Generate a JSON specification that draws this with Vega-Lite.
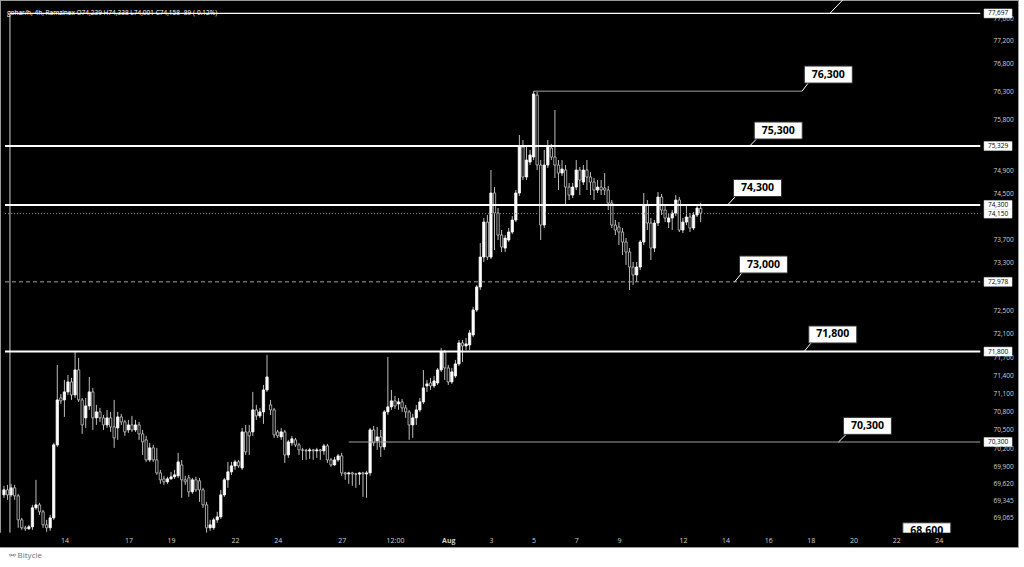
{
"$schema": "https://vega.github.io/schema/vega-lite/v6.json",
"width": 1018, "height": 547,
"autosize": {"type": "none"},
"padding": {"left": 0, "top": 0, "right": 6, "bottom": 20},
"background": "#ffffff",
"config": {"view": {"fill": "#000000", "stroke": "#9a9a9a", "strokeWidth": 1}, "font": "Open Sans"},
"title": {"text": "gohar/h, 4h, Ramzinex  O74,239  H74,338  L74,001  C74,158  -89 (-0.12%)", "anchor": "start", "frame": "group", "orient": "top", "offset": -16, "fontSize": 6.5, "fontWeight": "normal", "color": "#ffffff", "dx": 7},
"datasets": {
"candles": [
{"t":"2024-07-11T04:00","o":69438,"h":69584,"l":69389,"c":69519},
{"t":"2024-07-11T08:00","o":69519,"h":69600,"l":69357,"c":69438},
{"t":"2024-07-11T12:00","o":69438,"h":69617,"l":69406,"c":69552},
{"t":"2024-07-11T16:00","o":69552,"h":69600,"l":69357,"c":69422},
{"t":"2024-07-11T20:00","o":69422,"h":69454,"l":68906,"c":69034},
{"t":"2024-07-12T00:00","o":69034,"h":69066,"l":68874,"c":68906},
{"t":"2024-07-12T04:00","o":68906,"h":68938,"l":68858,"c":68890},
{"t":"2024-07-12T08:00","o":68890,"h":68954,"l":68874,"c":68922},
{"t":"2024-07-12T12:00","o":68922,"h":69276,"l":68874,"c":69228},
{"t":"2024-07-12T16:00","o":69228,"h":69682,"l":69196,"c":69276},
{"t":"2024-07-12T20:00","o":69276,"h":69308,"l":69115,"c":69164},
{"t":"2024-07-13T00:00","o":69164,"h":69196,"l":68906,"c":68954},
{"t":"2024-07-13T04:00","o":68954,"h":69034,"l":68842,"c":68906},
{"t":"2024-07-13T08:00","o":68906,"h":69115,"l":68858,"c":69066},
{"t":"2024-07-13T12:00","o":69066,"h":70286,"l":69034,"c":70253},
{"t":"2024-07-13T16:00","o":70253,"h":71577,"l":70220,"c":70994},
{"t":"2024-07-13T20:00","o":71027,"h":71093,"l":70928,"c":70978},
{"t":"2024-07-14T00:00","o":70994,"h":71326,"l":70713,"c":71127},
{"t":"2024-07-14T04:00","o":71127,"h":71410,"l":71077,"c":71293},
{"t":"2024-07-14T08:00","o":71293,"h":71360,"l":70994,"c":71077},
{"t":"2024-07-14T12:00","o":71077,"h":71794,"l":71027,"c":71493},
{"t":"2024-07-14T16:00","o":71493,"h":71694,"l":70961,"c":70994},
{"t":"2024-07-14T20:00","o":70994,"h":71027,"l":70433,"c":70581},
{"t":"2024-07-15T00:00","o":70697,"h":71027,"l":70532,"c":70895},
{"t":"2024-07-15T04:00","o":70895,"h":71376,"l":70829,"c":71127},
{"t":"2024-07-15T08:00","o":71127,"h":71193,"l":70499,"c":70697},
{"t":"2024-07-15T12:00","o":70697,"h":70912,"l":70581,"c":70796},
{"t":"2024-07-15T16:00","o":70796,"h":70862,"l":70631,"c":70697},
{"t":"2024-07-15T20:00","o":70697,"h":70746,"l":70499,"c":70581},
{"t":"2024-07-16T00:00","o":70581,"h":70829,"l":70532,"c":70697},
{"t":"2024-07-16T04:00","o":70697,"h":70796,"l":70466,"c":70548},
{"t":"2024-07-16T08:00","o":70548,"h":70994,"l":70204,"c":70368},
{"t":"2024-07-16T12:00","o":70532,"h":70796,"l":70335,"c":70713},
{"t":"2024-07-16T16:00","o":70713,"h":70763,"l":70581,"c":70631},
{"t":"2024-07-16T20:00","o":70631,"h":70664,"l":70401,"c":70466},
{"t":"2024-07-17T00:00","o":70499,"h":70664,"l":70450,"c":70581},
{"t":"2024-07-17T04:00","o":70581,"h":70730,"l":70466,"c":70499},
{"t":"2024-07-17T08:00","o":70499,"h":70664,"l":70466,"c":70581},
{"t":"2024-07-17T12:00","o":70581,"h":70631,"l":70335,"c":70433},
{"t":"2024-07-17T16:00","o":70433,"h":70499,"l":70089,"c":70302},
{"t":"2024-07-17T20:00","o":70335,"h":70401,"l":69975,"c":70007},
{"t":"2024-07-18T00:00","o":70007,"h":70286,"l":69975,"c":70204},
{"t":"2024-07-18T04:00","o":70204,"h":70253,"l":69975,"c":70007},
{"t":"2024-07-18T08:00","o":70007,"h":70204,"l":69763,"c":69795},
{"t":"2024-07-18T12:00","o":69795,"h":69844,"l":69617,"c":69682},
{"t":"2024-07-18T16:00","o":69698,"h":69747,"l":69600,"c":69649},
{"t":"2024-07-18T20:00","o":69649,"h":69731,"l":69617,"c":69698},
{"t":"2024-07-19T00:00","o":69698,"h":69812,"l":69682,"c":69731},
{"t":"2024-07-19T04:00","o":69731,"h":69844,"l":69698,"c":69763},
{"t":"2024-07-19T08:00","o":69747,"h":70122,"l":69714,"c":69975},
{"t":"2024-07-19T12:00","o":69925,"h":70007,"l":69389,"c":69682},
{"t":"2024-07-19T16:00","o":69682,"h":69747,"l":69600,"c":69649},
{"t":"2024-07-19T20:00","o":69714,"h":69763,"l":69406,"c":69487},
{"t":"2024-07-20T00:00","o":69487,"h":69714,"l":69454,"c":69682},
{"t":"2024-07-20T04:00","o":69682,"h":69731,"l":69487,"c":69519},
{"t":"2024-07-20T08:00","o":69666,"h":69714,"l":69325,"c":69519},
{"t":"2024-07-20T12:00","o":69519,"h":69552,"l":69228,"c":69276},
{"t":"2024-07-20T16:00","o":69276,"h":69325,"l":68826,"c":68906},
{"t":"2024-07-20T20:00","o":68906,"h":69034,"l":68858,"c":68954},
{"t":"2024-07-21T00:00","o":68906,"h":69066,"l":68874,"c":69034},
{"t":"2024-07-21T04:00","o":69034,"h":69164,"l":68986,"c":69082},
{"t":"2024-07-21T08:00","o":69082,"h":69519,"l":69050,"c":69438},
{"t":"2024-07-21T12:00","o":69438,"h":69714,"l":69406,"c":69682},
{"t":"2024-07-21T16:00","o":69682,"h":69975,"l":69552,"c":69812},
{"t":"2024-07-21T20:00","o":69812,"h":69975,"l":69763,"c":69909},
{"t":"2024-07-22T00:00","o":69909,"h":70007,"l":69844,"c":69975},
{"t":"2024-07-22T04:00","o":69975,"h":70007,"l":69877,"c":69909},
{"t":"2024-07-22T08:00","o":69877,"h":70532,"l":69844,"c":70466},
{"t":"2024-07-22T12:00","o":70466,"h":70581,"l":70089,"c":70138},
{"t":"2024-07-22T16:00","o":70466,"h":70581,"l":70089,"c":70401},
{"t":"2024-07-22T20:00","o":70466,"h":71127,"l":70401,"c":70829},
{"t":"2024-07-23T00:00","o":70829,"h":70912,"l":70664,"c":70730},
{"t":"2024-07-23T04:00","o":70730,"h":70862,"l":70697,"c":70796},
{"t":"2024-07-23T08:00","o":70796,"h":71243,"l":70598,"c":71160},
{"t":"2024-07-23T12:00","o":71160,"h":71744,"l":71127,"c":71376},
{"t":"2024-07-23T16:00","o":70912,"h":70994,"l":70746,"c":70829},
{"t":"2024-07-23T20:00","o":70829,"h":70862,"l":70368,"c":70417},
{"t":"2024-07-24T00:00","o":70466,"h":70499,"l":70368,"c":70401},
{"t":"2024-07-24T04:00","o":70384,"h":70532,"l":70335,"c":70466},
{"t":"2024-07-24T08:00","o":70466,"h":70499,"l":69958,"c":70089},
{"t":"2024-07-24T12:00","o":70089,"h":70335,"l":70040,"c":70302},
{"t":"2024-07-24T16:00","o":70286,"h":70401,"l":70237,"c":70352},
{"t":"2024-07-24T20:00","o":70335,"h":70368,"l":70220,"c":70253},
{"t":"2024-07-25T00:00","o":70253,"h":70286,"l":70089,"c":70171},
{"t":"2024-07-25T04:00","o":70171,"h":70204,"l":70007,"c":70165},
{"t":"2024-07-25T08:00","o":70165,"h":70187,"l":70007,"c":70155},
{"t":"2024-07-25T12:00","o":70155,"h":70204,"l":70023,"c":70171},
{"t":"2024-07-25T16:00","o":70171,"h":70187,"l":70007,"c":70155},
{"t":"2024-07-25T20:00","o":70155,"h":70204,"l":70040,"c":70171},
{"t":"2024-07-26T00:00","o":70171,"h":70187,"l":70007,"c":70155},
{"t":"2024-07-26T04:00","o":70155,"h":70270,"l":70089,"c":70237},
{"t":"2024-07-26T08:00","o":70237,"h":70270,"l":69958,"c":70007},
{"t":"2024-07-26T12:00","o":70007,"h":70040,"l":69893,"c":69925},
{"t":"2024-07-26T16:00","o":69925,"h":70056,"l":69909,"c":70007},
{"t":"2024-07-26T20:00","o":70007,"h":70105,"l":69975,"c":70073},
{"t":"2024-07-27T00:00","o":70073,"h":70122,"l":69747,"c":69795},
{"t":"2024-07-27T04:00","o":69795,"h":69812,"l":69682,"c":69779},
{"t":"2024-07-27T08:00","o":69779,"h":69812,"l":69617,"c":69795},
{"t":"2024-07-27T12:00","o":69795,"h":69812,"l":69584,"c":69779},
{"t":"2024-07-27T16:00","o":69779,"h":69795,"l":69552,"c":69775},
{"t":"2024-07-27T20:00","o":69775,"h":69812,"l":69600,"c":69795},
{"t":"2024-07-28T00:00","o":69795,"h":69812,"l":69406,"c":69779},
{"t":"2024-07-28T04:00","o":69779,"h":69828,"l":69389,"c":69795},
{"t":"2024-07-28T08:00","o":69795,"h":70532,"l":69747,"c":70499},
{"t":"2024-07-28T12:00","o":70499,"h":70565,"l":70237,"c":70286},
{"t":"2024-07-28T16:00","o":70319,"h":70548,"l":70171,"c":70384},
{"t":"2024-07-28T20:00","o":70384,"h":70499,"l":70056,"c":70220},
{"t":"2024-07-29T00:00","o":70220,"h":70829,"l":70171,"c":70796},
{"t":"2024-07-29T04:00","o":70796,"h":71710,"l":70746,"c":70879},
{"t":"2024-07-29T08:00","o":70879,"h":71160,"l":70829,"c":70978},
{"t":"2024-07-29T12:00","o":70978,"h":71060,"l":70846,"c":70895},
{"t":"2024-07-29T16:00","o":70928,"h":71027,"l":70829,"c":70961},
{"t":"2024-07-29T20:00","o":70961,"h":71010,"l":70796,"c":70862},
{"t":"2024-07-30T00:00","o":70862,"h":70912,"l":70697,"c":70796},
{"t":"2024-07-30T04:00","o":70796,"h":70829,"l":70335,"c":70581},
{"t":"2024-07-30T08:00","o":70581,"h":70763,"l":70368,"c":70697},
{"t":"2024-07-30T12:00","o":70697,"h":70912,"l":70581,"c":70829},
{"t":"2024-07-30T16:00","o":70829,"h":71027,"l":70796,"c":70961},
{"t":"2024-07-30T20:00","o":70961,"h":71493,"l":70928,"c":71193},
{"t":"2024-07-31T00:00","o":71226,"h":71326,"l":71127,"c":71260},
{"t":"2024-07-31T04:00","o":71276,"h":71360,"l":71160,"c":71226},
{"t":"2024-07-31T08:00","o":71226,"h":71393,"l":71193,"c":71310},
{"t":"2024-07-31T12:00","o":71276,"h":71526,"l":71243,"c":71493},
{"t":"2024-07-31T16:00","o":71493,"h":71861,"l":71460,"c":71794},
{"t":"2024-07-31T20:00","o":71794,"h":71827,"l":71326,"c":71526},
{"t":"2024-08-01T00:00","o":71526,"h":71577,"l":71243,"c":71293},
{"t":"2024-08-01T04:00","o":71293,"h":71526,"l":71260,"c":71460},
{"t":"2024-08-01T08:00","o":71393,"h":71660,"l":71360,"c":71593},
{"t":"2024-08-01T12:00","o":71593,"h":71995,"l":71560,"c":71945},
{"t":"2024-08-01T16:00","o":71945,"h":71995,"l":71627,"c":71894},
{"t":"2024-08-01T20:00","o":71894,"h":72029,"l":71827,"c":71928},
{"t":"2024-08-02T00:00","o":71911,"h":72163,"l":71827,"c":72113},
{"t":"2024-08-02T04:00","o":72079,"h":72552,"l":72046,"c":72501},
{"t":"2024-08-02T08:00","o":72501,"h":72925,"l":72467,"c":72891},
{"t":"2024-08-02T12:00","o":72891,"h":73642,"l":72840,"c":73402},
{"t":"2024-08-02T16:00","o":73402,"h":74074,"l":73317,"c":74004},
{"t":"2024-08-02T20:00","o":74004,"h":74126,"l":73351,"c":73402},
{"t":"2024-08-03T00:00","o":73402,"h":74908,"l":73368,"c":74507},
{"t":"2024-08-03T04:00","o":74507,"h":74611,"l":73522,"c":74160},
{"t":"2024-08-03T08:00","o":74160,"h":74247,"l":73694,"c":73780},
{"t":"2024-08-03T12:00","o":73780,"h":73866,"l":73488,"c":73574},
{"t":"2024-08-03T16:00","o":73556,"h":73780,"l":73488,"c":73728},
{"t":"2024-08-03T20:00","o":73694,"h":73901,"l":73660,"c":73832},
{"t":"2024-08-04T00:00","o":73832,"h":74108,"l":73797,"c":74039},
{"t":"2024-08-04T04:00","o":74039,"h":74559,"l":74004,"c":74507},
{"t":"2024-08-04T08:00","o":74507,"h":75523,"l":74455,"c":75312},
{"t":"2024-08-04T12:00","o":75312,"h":75435,"l":74733,"c":74786},
{"t":"2024-08-04T16:00","o":74786,"h":75347,"l":74733,"c":75083},
{"t":"2024-08-04T20:00","o":75048,"h":75259,"l":74995,"c":75171},
{"t":"2024-08-05T00:00","o":75136,"h":76300,"l":75083,"c":76250},
{"t":"2024-08-05T04:00","o":76230,"h":76290,"l":74908,"c":74995},
{"t":"2024-08-05T08:00","o":74995,"h":75083,"l":73694,"c":73953},
{"t":"2024-08-05T12:00","o":73953,"h":75259,"l":73901,"c":74995},
{"t":"2024-08-05T16:00","o":74995,"h":75435,"l":74943,"c":75312},
{"t":"2024-08-05T20:00","o":75294,"h":75365,"l":75083,"c":75136},
{"t":"2024-08-06T00:00","o":75136,"h":75965,"l":74768,"c":74995},
{"t":"2024-08-06T04:00","o":74995,"h":75083,"l":74559,"c":74855},
{"t":"2024-08-06T08:00","o":74855,"h":75083,"l":74803,"c":74925},
{"t":"2024-08-06T12:00","o":74908,"h":74995,"l":74298,"c":74611},
{"t":"2024-08-06T16:00","o":74611,"h":74681,"l":74385,"c":74472},
{"t":"2024-08-06T20:00","o":74472,"h":74681,"l":74420,"c":74611},
{"t":"2024-08-07T00:00","o":74611,"h":75083,"l":74559,"c":74908},
{"t":"2024-08-07T04:00","o":74908,"h":74960,"l":74472,"c":74733},
{"t":"2024-08-07T08:00","o":74698,"h":74995,"l":74646,"c":74908},
{"t":"2024-08-07T12:00","o":74908,"h":75083,"l":74559,"c":74786},
{"t":"2024-08-07T16:00","o":74786,"h":74873,"l":74472,"c":74698},
{"t":"2024-08-07T20:00","o":74698,"h":74768,"l":74385,"c":74559},
{"t":"2024-08-08T00:00","o":74559,"h":74733,"l":74507,"c":74611},
{"t":"2024-08-08T04:00","o":74611,"h":74733,"l":74472,"c":74559},
{"t":"2024-08-08T08:00","o":74594,"h":74855,"l":74472,"c":74559},
{"t":"2024-08-08T12:00","o":74559,"h":74629,"l":74212,"c":74333},
{"t":"2024-08-08T16:00","o":74333,"h":74385,"l":73901,"c":73952},
{"t":"2024-08-08T20:00","o":73952,"h":74039,"l":73780,"c":73866},
{"t":"2024-08-09T00:00","o":73918,"h":74004,"l":73608,"c":73832},
{"t":"2024-08-09T04:00","o":73832,"h":73901,"l":73437,"c":73660},
{"t":"2024-08-09T08:00","o":73660,"h":73728,"l":73266,"c":73488},
{"t":"2024-08-09T12:00","o":73488,"h":73556,"l":72840,"c":73231},
{"t":"2024-08-09T16:00","o":73231,"h":73317,"l":72925,"c":73095},
{"t":"2024-08-09T20:00","o":73095,"h":73317,"l":72976,"c":73231},
{"t":"2024-08-10T00:00","o":73231,"h":73694,"l":73180,"c":73660},
{"t":"2024-08-10T04:00","o":73660,"h":74507,"l":73608,"c":74298},
{"t":"2024-08-10T08:00","o":74298,"h":74385,"l":73866,"c":73987},
{"t":"2024-08-10T12:00","o":73987,"h":74074,"l":73351,"c":73556},
{"t":"2024-08-10T16:00","o":73556,"h":74039,"l":73488,"c":73987},
{"t":"2024-08-10T20:00","o":73987,"h":74524,"l":73935,"c":74437},
{"t":"2024-08-11T00:00","o":74437,"h":74490,"l":74126,"c":74212},
{"t":"2024-08-11T04:00","o":74212,"h":74298,"l":74004,"c":74074},
{"t":"2024-08-11T08:00","o":74004,"h":74143,"l":73901,"c":74074},
{"t":"2024-08-11T12:00","o":74074,"h":74212,"l":73866,"c":74160},
{"t":"2024-08-11T16:00","o":74160,"h":74472,"l":74108,"c":74385},
{"t":"2024-08-11T20:00","o":74385,"h":74437,"l":73832,"c":73866},
{"t":"2024-08-12T00:00","o":73866,"h":74074,"l":73814,"c":74004},
{"t":"2024-08-12T04:00","o":74004,"h":74298,"l":73952,"c":74091},
{"t":"2024-08-12T08:00","o":74091,"h":74160,"l":73832,"c":73901},
{"t":"2024-08-12T12:00","o":73901,"h":74177,"l":73866,"c":74126},
{"t":"2024-08-12T16:00","o":74126,"h":74298,"l":74091,"c":74247},
{"t":"2024-08-12T20:00","o":74239,"h":74338,"l":74001,"c":74158}
],
"callouts": [
{"t":"2024-08-18T19:40","p":76596,"label":"76,300"},
{"t":"2024-08-16T11:20","p":75602,"label":"75,300"},
{"t":"2024-08-15T12:00","p":74594,"label":"74,300"},
{"t":"2024-08-15T18:40","p":73274,"label":"73,000"},
{"t":"2024-08-19T00:40","p":72087,"label":"71,800"},
{"t":"2024-08-20T15:40","p":70565,"label":"70,300"},
{"t":"2024-08-23T10:30","p":68850,"label":"68,600"}
],
"tails": [
{"t1":"2024-08-17T14:10","p1":76300,"t2":"2024-08-17T21:50","p2":76462},
{"t1":"2024-08-15T03:05","p1":75329,"t2":"2024-08-15T12:00","p2":75470},
{"t1":"2024-08-14T02:25","p1":74300,"t2":"2024-08-14T11:30","p2":74454},
{"t1":"2024-08-14T10:20","p1":72978,"t2":"2024-08-14T19:10","p2":73146},
{"t1":"2024-08-17T16:20","p1":71800,"t2":"2024-08-18T01:10","p2":71961},
{"t1":"2024-08-19T07:10","p1":70300,"t2":"2024-08-19T16:20","p2":70433},
{"t1":"2024-08-18T21:20","p1":77697,"t2":"2024-08-19T11:50","p2":77941}
],
"pricetags": [
{"p":77697,"label":"77,697"},
{"p":75329,"label":"75,329"},
{"p":74300,"label":"74,300"},
{"p":74150,"label":"74,150"},
{"p":72978,"label":"72,978"},
{"p":71800,"label":"71,800"},
{"p":70300,"label":"70,300"}
]
},
"layer": [
{
"data": {"name": "candles"},
"mark": {"type": "rule", "color": "#bdbdbd", "strokeWidth": 1, "clip": true},
"encoding": {
"x": {"field": "t", "type": "temporal",
 "scale": {"domain": [{"year":2024,"month":7,"date":11,"hours":5,"minutes":9},{"year":2024,"month":8,"date":27,"hours":11,"minutes":30}]},
 "axis": {
  "values": [{"year":2024,"month":7,"date":14},{"year":2024,"month":7,"date":17},{"year":2024,"month":7,"date":19},{"year":2024,"month":7,"date":22},{"year":2024,"month":7,"date":24},{"year":2024,"month":7,"date":27},{"year":2024,"month":7,"date":29,"hours":12},{"year":2024,"month":8,"date":1},{"year":2024,"month":8,"date":3},{"year":2024,"month":8,"date":5},{"year":2024,"month":8,"date":7},{"year":2024,"month":8,"date":9},{"year":2024,"month":8,"date":12},{"year":2024,"month":8,"date":14},{"year":2024,"month":8,"date":16},{"year":2024,"month":8,"date":18},{"year":2024,"month":8,"date":20},{"year":2024,"month":8,"date":22},{"year":2024,"month":8,"date":24}],
  "labelExpr": "hours(datum.value) == 12 ? '12:00' : (date(datum.value) == 1 ? timeFormat(datum.value, '%b') : timeFormat(datum.value, '%-d'))",
  "offset": -14, "domain": false, "ticks": false, "grid": false,
  "labelColor": "#d0d0d0", "labelFontSize": 7, "labelPadding": 3, "labelOverlap": false, "labelFlush": false,
  "labelFontWeight": {"condition": {"test": "date(datum.value) == 1", "value": "bold"}, "value": "normal"},
  "title": "⚯ Bitycle", "titleAnchor": "start", "titleColor": "#707070", "titleFontSize": 8, "titleFontWeight": "normal", "titlePadding": 8, "titleX": 8, "zindex": 1
 }},
"y": {"field": "l", "type": "quantitative",
 "scale": {"type": "log", "domain": [68598, 77941], "nice": false},
 "axis": {"orient": "right", "values": [77600, 77200, 76800, 76300, 75800, 74900, 74500, 73700, 73300, 72500, 72100, 71700, 71400, 71100, 70800, 70500, 70200, 69900, 69620, 69345, 69065],
  "format": ",d", "offset": -33, "domain": false, "ticks": false, "grid": false,
  "labelColor": "#d0d0d0", "labelFontSize": 6.5, "labelPadding": 8, "labelOverlap": false, "labelBound": false, "title": null, "zindex": 0}},
"y2": {"field": "h"}
}
},
{
"data": {"name": "candles"},
"mark": {"type": "bar", "width": 2.3, "strokeWidth": 0.8, "clip": true},
"encoding": {
"x": {"field": "t", "type": "temporal", "scale": {"domain": [{"year":2024,"month":7,"date":11,"hours":5,"minutes":9},{"year":2024,"month":8,"date":27,"hours":11,"minutes":30}]}},
"y": {"field": "o", "type": "quantitative", "scale": {"type": "log", "domain": [68598, 77941], "nice": false}},
"y2": {"field": "c"},
"fill": {"condition": {"test": "datum.c >= datum.o", "value": "#ffffff"}, "value": "#000000"},
"stroke": {"condition": {"test": "datum.c >= datum.o", "value": "#ffffff"}, "value": "#c8c8c8"}
}
},
{
"data": {"values": [{"p1": 77697, "p2": 68826}]},
"mark": {"type": "rule", "color": "#cfcfcf", "strokeWidth": 1, "clip": true},
"encoding": {
"x": {"datum": {"year":2024,"month":7,"date":11,"hours":10,"minutes":43}, "type": "temporal", "scale": {"domain": [{"year":2024,"month":7,"date":11,"hours":5,"minutes":9},{"year":2024,"month":8,"date":27,"hours":11,"minutes":30}]}},
"y": {"field": "p1", "type": "quantitative", "scale": {"type": "log", "domain": [68598, 77941], "nice": false}},
"y2": {"field": "p2"}
}
},
{
"data": {"values": [{"p": 75329}, {"p": 74300}, {"p": 71800}]},
"mark": {"type": "rule", "color": "#ffffff", "strokeWidth": 2, "clip": true},
"encoding": {
"x": {"datum": {"year":2024,"month":7,"date":11,"hours":5,"minutes":9}, "type": "temporal", "scale": {"domain": [{"year":2024,"month":7,"date":11,"hours":5,"minutes":9},{"year":2024,"month":8,"date":27,"hours":11,"minutes":30}]}},
"x2": {"datum": {"year":2024,"month":8,"date":25,"hours":22,"minutes":40}},
"y": {"field": "p", "type": "quantitative", "scale": {"type": "log", "domain": [68598, 77941], "nice": false}}
}
},
{
"data": {"values": [{"p": 77697}]},
"mark": {"type": "rule", "color": "#ffffff", "strokeWidth": 1.3, "clip": true},
"encoding": {
"x": {"datum": {"year":2024,"month":7,"date":11,"hours":10,"minutes":43}, "type": "temporal", "scale": {"domain": [{"year":2024,"month":7,"date":11,"hours":5,"minutes":9},{"year":2024,"month":8,"date":27,"hours":11,"minutes":30}]}},
"x2": {"datum": {"year":2024,"month":8,"date":25,"hours":22,"minutes":40}},
"y": {"field": "p", "type": "quantitative", "scale": {"type": "log", "domain": [68598, 77941], "nice": false}}
}
},
{
"data": {"values": [{"p": 72978}]},
"mark": {"type": "rule", "color": "#a0a0a0", "strokeWidth": 1, "strokeDash": [4, 3], "clip": true},
"encoding": {
"x": {"datum": {"year":2024,"month":7,"date":11,"hours":5,"minutes":9}, "type": "temporal", "scale": {"domain": [{"year":2024,"month":7,"date":11,"hours":5,"minutes":9},{"year":2024,"month":8,"date":27,"hours":11,"minutes":30}]}},
"x2": {"datum": {"year":2024,"month":8,"date":25,"hours":22,"minutes":40}},
"y": {"field": "p", "type": "quantitative", "scale": {"type": "log", "domain": [68598, 77941], "nice": false}}
}
},
{
"data": {"values": [{"p": 74150}]},
"mark": {"type": "rule", "color": "#8a8a8a", "strokeWidth": 1, "strokeDash": [1, 2], "clip": true},
"encoding": {
"x": {"datum": {"year":2024,"month":7,"date":11,"hours":5,"minutes":9}, "type": "temporal", "scale": {"domain": [{"year":2024,"month":7,"date":11,"hours":5,"minutes":9},{"year":2024,"month":8,"date":27,"hours":11,"minutes":30}]}},
"x2": {"datum": {"year":2024,"month":8,"date":25,"hours":22,"minutes":40}},
"y": {"field": "p", "type": "quantitative", "scale": {"type": "log", "domain": [68598, 77941], "nice": false}}
}
},
{
"data": {"values": [{"p": 70300}]},
"mark": {"type": "rule", "color": "#a0a0a0", "strokeWidth": 1.2, "clip": true},
"encoding": {
"x": {"datum": {"year":2024,"month":7,"date":27,"hours":8}, "type": "temporal", "scale": {"domain": [{"year":2024,"month":7,"date":11,"hours":5,"minutes":9},{"year":2024,"month":8,"date":27,"hours":11,"minutes":30}]}},
"x2": {"datum": {"year":2024,"month":8,"date":25,"hours":22,"minutes":40}},
"y": {"field": "p", "type": "quantitative", "scale": {"type": "log", "domain": [68598, 77941], "nice": false}}
}
},
{
"data": {"values": [{"p": 76300}]},
"mark": {"type": "rule", "color": "#a0a0a0", "strokeWidth": 1, "clip": true},
"encoding": {
"x": {"datum": {"year":2024,"month":8,"date":5}, "type": "temporal", "scale": {"domain": [{"year":2024,"month":7,"date":11,"hours":5,"minutes":9},{"year":2024,"month":8,"date":27,"hours":11,"minutes":30}]}},
"x2": {"datum": {"year":2024,"month":8,"date":17,"hours":14,"minutes":10}},
"y": {"field": "p", "type": "quantitative", "scale": {"type": "log", "domain": [68598, 77941], "nice": false}}
}
},
{
"data": {"name": "tails"},
"mark": {"type": "rule", "color": "#ffffff", "strokeWidth": 1, "clip": true},
"encoding": {
"x": {"field": "t1", "type": "temporal", "scale": {"domain": [{"year":2024,"month":7,"date":11,"hours":5,"minutes":9},{"year":2024,"month":8,"date":27,"hours":11,"minutes":30}]}},
"x2": {"field": "t2"},
"y": {"field": "p1", "type": "quantitative", "scale": {"type": "log", "domain": [68598, 77941], "nice": false}},
"y2": {"field": "p2"}
}
},
{
"data": {"name": "callouts"},
"mark": {"type": "point", "shape": "M-1,-0.354H1V0.354H-1Z", "size": 2304, "filled": true, "fill": "#ffffff", "stroke": "#333333", "strokeWidth": 1, "opacity": 1, "clip": true},
"encoding": {
"x": {"field": "t", "type": "temporal", "scale": {"domain": [{"year":2024,"month":7,"date":11,"hours":5,"minutes":9},{"year":2024,"month":8,"date":27,"hours":11,"minutes":30}]}},
"y": {"field": "p", "type": "quantitative", "scale": {"type": "log", "domain": [68598, 77941], "nice": false}}
}
},
{
"data": {"name": "callouts"},
"mark": {"type": "text", "fontSize": 10.5, "fontWeight": "bold", "color": "#000000", "align": "center", "baseline": "middle", "clip": true},
"encoding": {
"x": {"field": "t", "type": "temporal", "scale": {"domain": [{"year":2024,"month":7,"date":11,"hours":5,"minutes":9},{"year":2024,"month":8,"date":27,"hours":11,"minutes":30}]}},
"y": {"field": "p", "type": "quantitative", "scale": {"type": "log", "domain": [68598, 77941], "nice": false}},
"text": {"field": "label"}
}
},
{
"data": {"values": [{"top": 68826, "bottom": 68598}]},
"mark": {"type": "rect", "fill": "#000000"},
"encoding": {
"y": {"field": "top", "type": "quantitative", "scale": {"type": "log", "domain": [68598, 77941], "nice": false}},
"y2": {"field": "bottom"}
}
},
{
"data": {"name": "pricetags"},
"mark": {"type": "point", "shape": "M-1,-0.32H1V0.32H-1Z", "size": 784, "filled": true, "fill": "#ffffff", "stroke": "#dddddd", "strokeWidth": 0.5, "opacity": 1},
"encoding": {
"x": {"datum": {"year":2024,"month":8,"date":26,"hours":18,"minutes":40}, "type": "temporal", "scale": {"domain": [{"year":2024,"month":7,"date":11,"hours":5,"minutes":9},{"year":2024,"month":8,"date":27,"hours":11,"minutes":30}]}},
"y": {"field": "p", "type": "quantitative", "scale": {"type": "log", "domain": [68598, 77941], "nice": false}}
}
},
{
"data": {"name": "pricetags"},
"mark": {"type": "text", "fontSize": 6.5, "color": "#000000", "align": "center", "baseline": "middle"},
"encoding": {
"x": {"datum": {"year":2024,"month":8,"date":26,"hours":18,"minutes":40}, "type": "temporal", "scale": {"domain": [{"year":2024,"month":7,"date":11,"hours":5,"minutes":9},{"year":2024,"month":8,"date":27,"hours":11,"minutes":30}]}},
"y": {"field": "p", "type": "quantitative", "scale": {"type": "log", "domain": [68598, 77941], "nice": false}},
"text": {"field": "label"}
}
}
]
}
